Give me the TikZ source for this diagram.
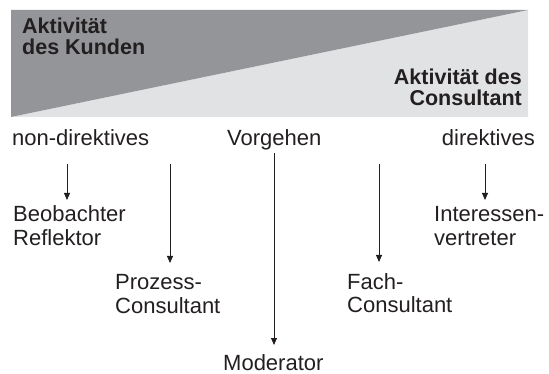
\documentclass[tikz,border=0pt]{standalone}
\usepackage{fontspec}
\setmainfont{Liberation Sans}
\usetikzlibrary{arrows.meta}
\definecolor{darkbar}{HTML}{939598}
\definecolor{lightbar}{HTML}{E1E2E4}
\definecolor{ink}{HTML}{231F20}
\begin{document}
\begin{tikzpicture}[x=1pt,y=-1pt,
  lbl/.style={inner sep=0pt,text=ink,font=\fontsize{22}{23.5}\selectfont},
  hdr/.style={inner sep=0pt,text=ink,font=\bfseries\fontsize{21.5}{21.5}\selectfont},
  arr/.style={draw=ink,line width=0.8pt,-{Triangle[length=7pt,width=6pt]}}]
\useasboundingbox (0,0) rectangle (549,374);
% banner
\fill[lightbar] (528,10) -- (528,117) -- (11,117) -- cycle;
\fill[darkbar] (11,10) -- (528,10) -- (11,117) -- cycle;
\node[hdr,anchor=base west,align=left] (K) at (22,55) {Aktivität\\des Kunden};
\node[hdr,anchor=base east,align=right] (C) at (522,106) {Aktivität des\\Consultant};
% scale labels
\node[lbl,anchor=base west] (ND) at (12,146) {non-direktives};
\node[lbl,anchor=base west] (VG) at (227,146) {Vorgehen};
\node[lbl,anchor=base east] (DR) at (535,146) {direktives};
% roles
\node[lbl,anchor=base west,align=left] (B) at (13,245.5) {Beobachter\\Reflektor};
\node[lbl,anchor=base west,align=left] (P) at (115,313) {Prozess-\\Consultant};
\node[lbl,anchor=base west] (M) at (223,370.5) {Moderator};
\node[lbl,anchor=base west,align=left] (F) at (347,312.5) {Fach-\\Consultant};
\node[lbl,anchor=base west,align=left] (I) at (434,245.5) {Interessen-\\vertreter};
% arrow starts and ends
\coordinate (s1) at (67,164);
\coordinate (s2) at (170,164);
\coordinate (s4) at (379,164);
\coordinate (s5) at (485,164);
\coordinate (e1) at (67,200);
\coordinate (e2) at (170,263);
\coordinate (e3) at (274,345);
\coordinate (e4) at (379,262);
\coordinate (e5) at (485,200);
\draw[arr] (s1) -- (e1);
\draw[arr] (s2) -- (e2);
\draw[arr] (VG.south -| e3) ++(0,2) -- (e3);
\draw[arr] (s4) -- (e4);
\draw[arr] (s5) -- (e5);
\end{tikzpicture}
\end{document}
